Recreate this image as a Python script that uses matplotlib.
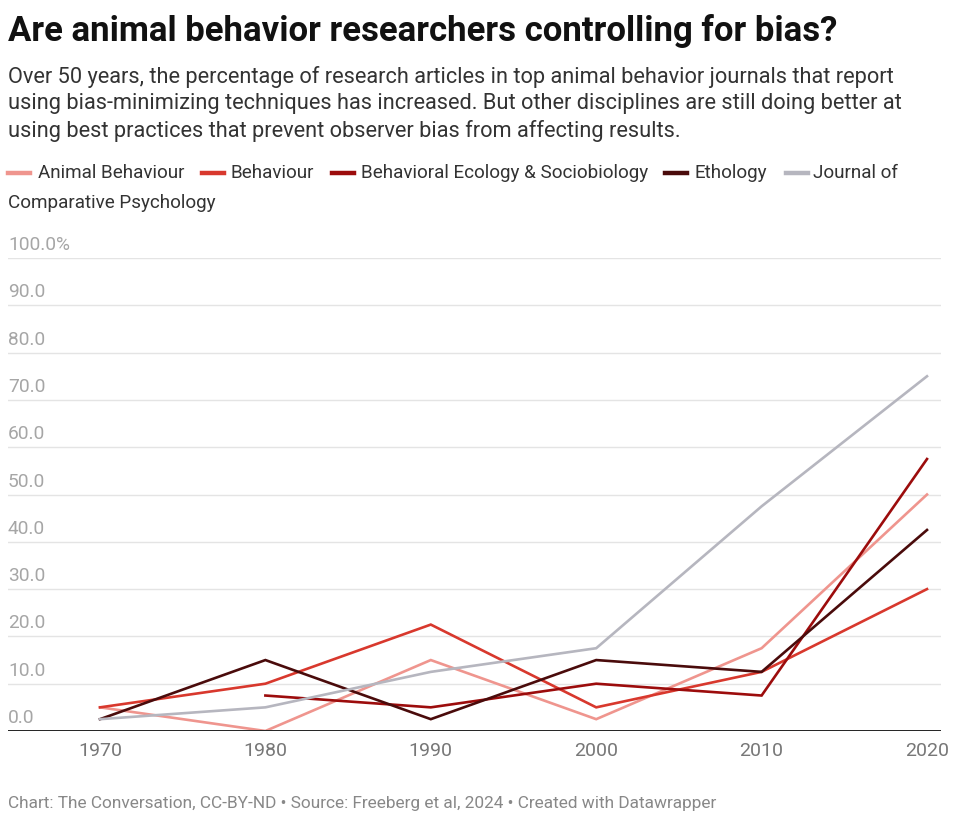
import numpy as np
import matplotlib.pyplot as plt
from matplotlib.lines import Line2D
import matplotlib.transforms as mtransforms

plt.rcParams['font.family'] = ['Roboto', 'DejaVu Sans']

# Data (percent of articles reporting bias-minimizing techniques)
years = [1970, 1980, 1990, 2000, 2010, 2020]
animal_behaviour = [5.0, 0.0, 15.0, 2.5, 17.5, 50.0]
behaviour = [5.0, 10.0, 22.5, 5.0, 12.5, 30.0]
behav_ecol = [np.nan, 7.5, 5.0, 10.0, 7.5, 57.5]
ethology = [2.5, 15.0, 2.5, 15.0, 12.5, 42.5]
comp_psych = [2.5, 5.0, 12.5, 17.5, 47.5, 75.0]

series_names = ['Animal Behaviour', 'Behaviour', 'Behavioral Ecology & Sociobiology',
                'Ethology', 'Journal of Comparative Psychology']
series_values = [animal_behaviour, behaviour, behav_ecol, ethology, comp_psych]
colors = ['#ef958e', '#d8382d', '#9c0c0c', '#4a0b0b', '#b6b6bf']

y_ticks = [0, 10, 20, 30, 40, 50, 60, 70, 80, 90, 100]
y_labels = ['0.0', '10.0', '20.0', '30.0', '40.0', '50.0', '60.0', '70.0', '80.0', '90.0', '100.0%']
x_ticks = years

W, H = 960, 822
fig = plt.figure(figsize=(W / 100, H / 100), dpi=100)

# axes placed in pixel terms
left, right, bottom, top = 8, 941, 731, 258
ax = fig.add_axes([left / W, 1 - bottom / H, (right - left) / W, (bottom - top) / H])

# x range so 1970 sits at x=100 px and 2020 at x=927 px
px_per_year = (927 - 100) / 50
ax.set_xlim(1970 - (100 - left) / px_per_year, 2020 + (right - 927) / px_per_year)
ax.set_ylim(0, 100)

for v in y_ticks[1:]:
    ax.axhline(v, color='#e4e4e4', lw=1.0, zorder=0)
ax.axhline(0, color='#222222', lw=1.4, zorder=3)

for name, vals, c in zip(series_names, series_values, colors):
    ax.plot(years, vals, color=c, lw=1.9, solid_joinstyle='miter', zorder=2)

# y labels sit just above their gridlines, inside the plot
trans = mtransforms.blended_transform_factory(ax.transAxes, ax.transData)
trans = trans + mtransforms.ScaledTranslation(0, 4 / 100, fig.dpi_scale_trans)
for v, lab in zip(y_ticks, y_labels):
    ax.text(0, v, lab, transform=trans, ha='left', va='bottom', fontsize=13.8,
            color='#a6a6a6')

ax.set_xticks(x_ticks)
ax.set_xticklabels([str(y) for y in x_ticks], fontsize=14, color='#777777')
ax.tick_params(axis='x', length=0, pad=8)
ax.set_yticks([])
for s in ax.spines.values():
    s.set_visible(False)
ax.set_facecolor('none')

# titles
fig.text(8 / W, 1 - 31 / H, 'Are animal behavior researchers controlling for bias?',
         fontsize=25, fontweight='bold', color='#111111', va='center', ha='left')
subtitle = ('Over 50 years, the percentage of research articles in top animal behavior journals that report\n'
            'using bias-minimizing techniques has increased. But other disciplines are still doing better at\n'
            'using best practices that prevent observer bias from affecting results.')
fig.text(8 / W, 1 - 66 / H, subtitle, fontsize=15.7, color='#333333', va='top', ha='left',
         linespacing=1.32)

# legend, laid out by hand to wrap like the original
legend_items = [
    (8, 38, 173, series_names[0]),
    (202, 231, 173, series_names[1]),
    (332, 361, 173, series_names[2]),
    (665, 694, 173, series_names[3]),
    (786, 813, 173, 'Journal of'),
]
for (mx, tx, ty, lab), c in zip(legend_items, colors):
    fig.add_artist(Line2D([mx / W, (mx + 22) / W], [1 - ty / H, 1 - ty / H],
                          color=c, lw=3.2, transform=fig.transFigure))
    fig.text(tx / W, 1 - ty / H, lab, fontsize=13.6, color='#333333', va='center', ha='left')
fig.text(8 / W, 1 - 203 / H, 'Comparative Psychology', fontsize=13.6, color='#333333',
         va='center', ha='left')

fig.text(8 / W, 1 - 803 / H,
         'Chart: The Conversation, CC-BY-ND \u2022 Source: Freeberg et al, 2024 \u2022 Created with Datawrapper',
         fontsize=12.4, color='#888888', va='center', ha='left')

fig.savefig('out.png', dpi=100)
